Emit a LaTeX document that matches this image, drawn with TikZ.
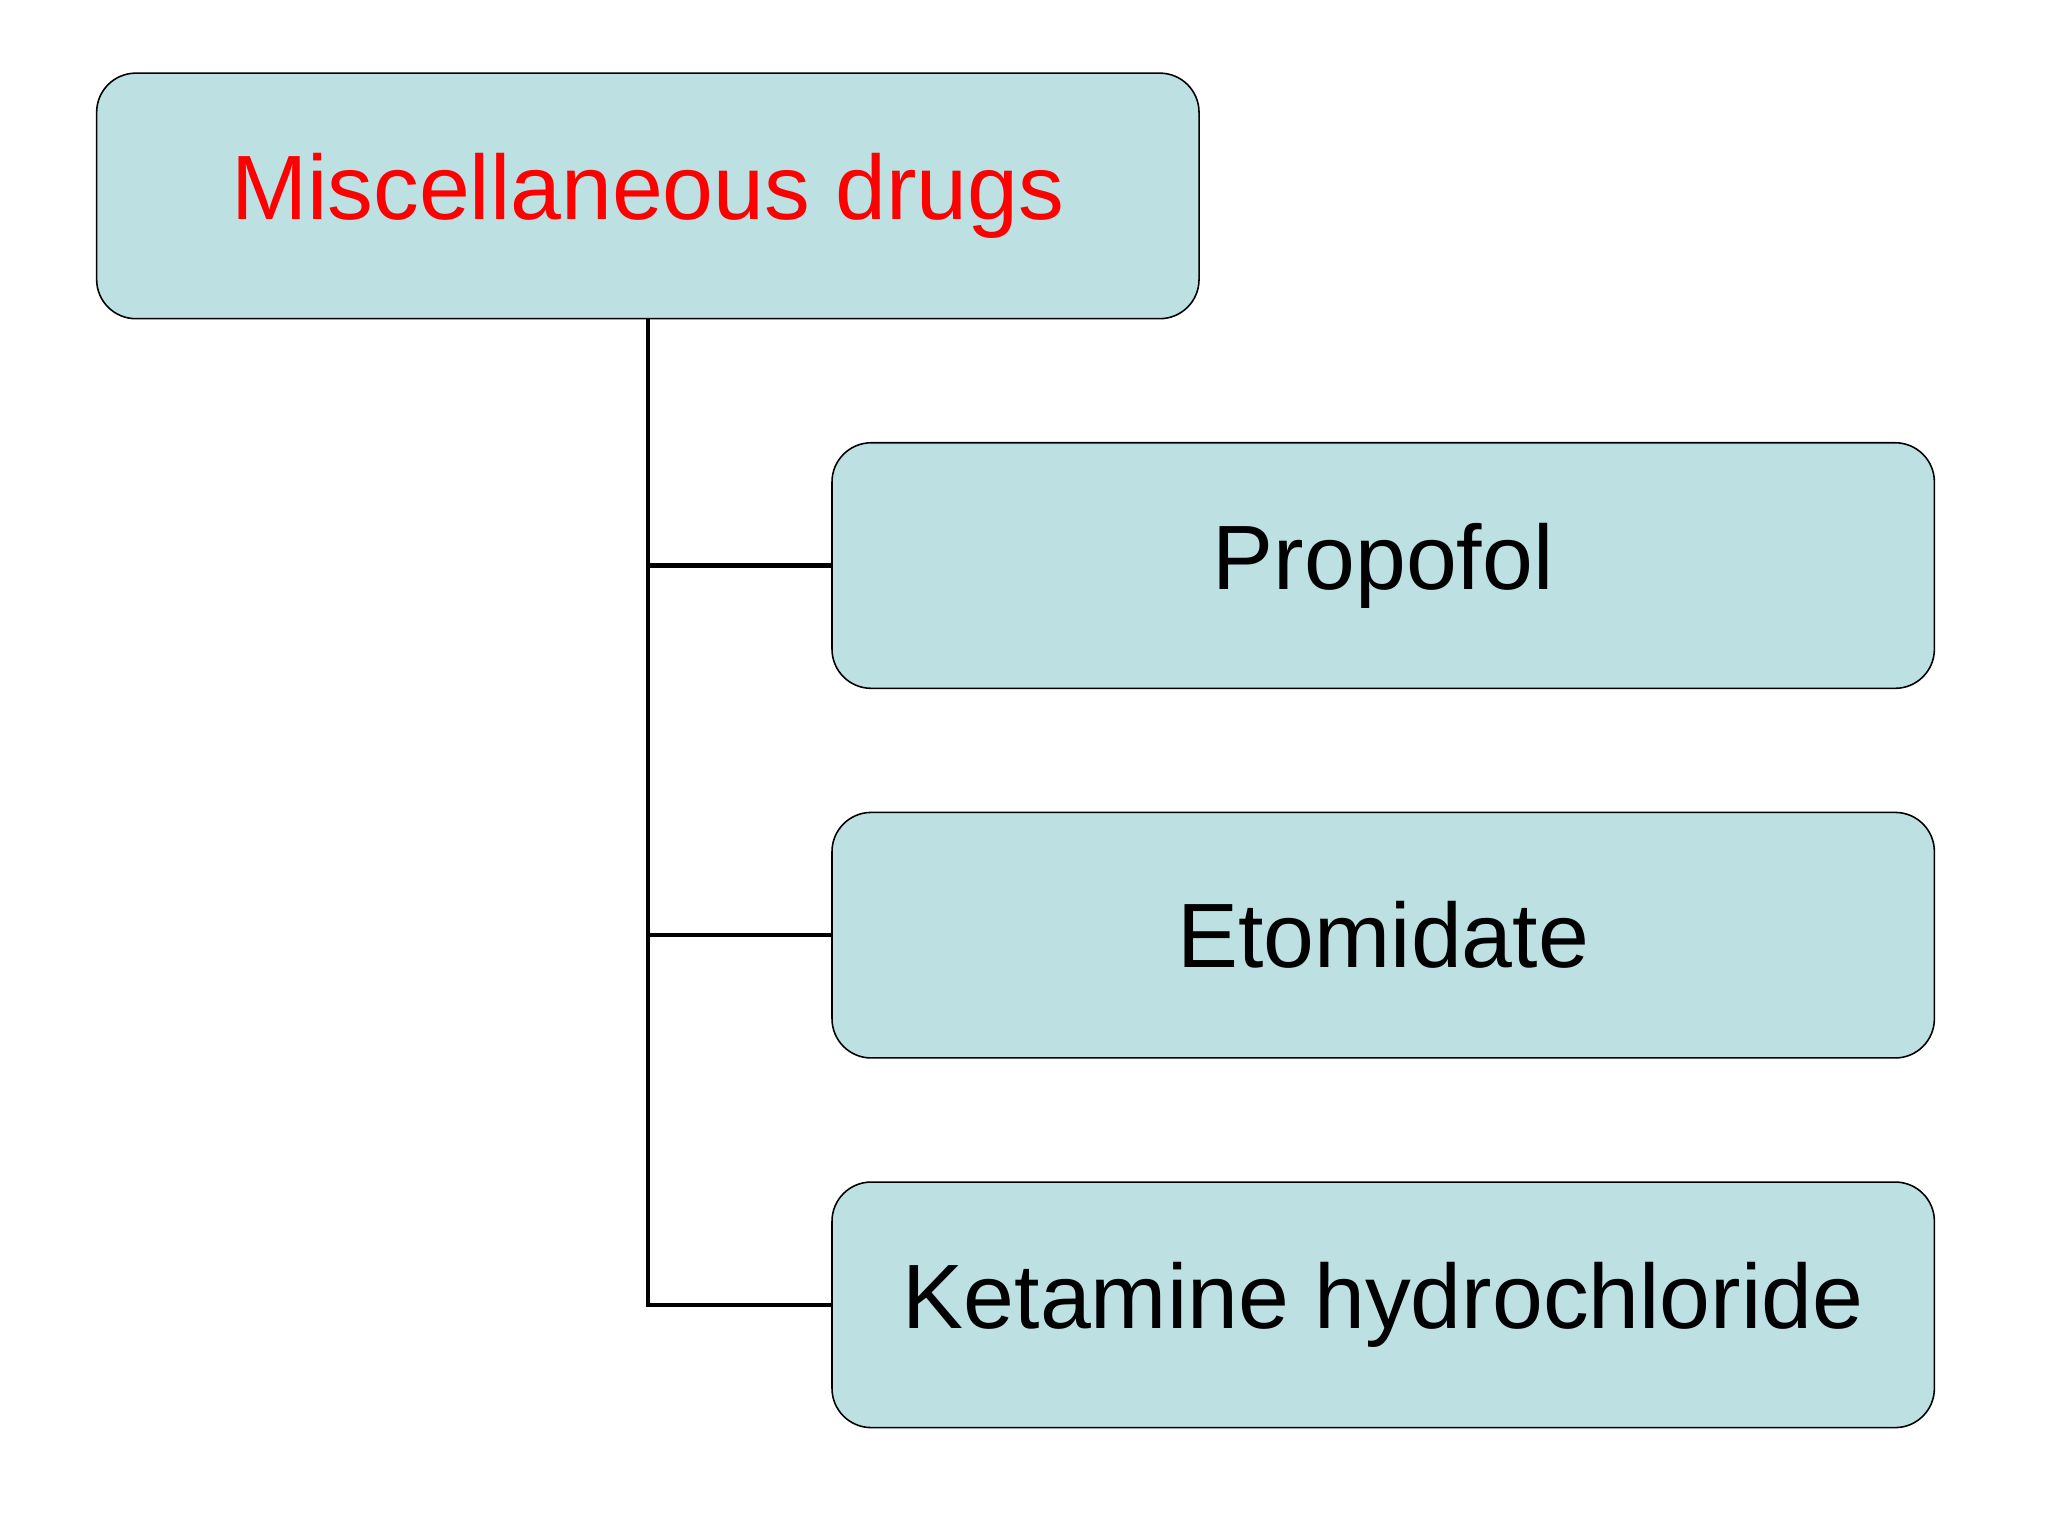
\documentclass[tikz,border=0pt]{standalone}
\usepackage{fontspec}
\setmainfont{Liberation Sans}
\definecolor{boxfill}{HTML}{BDE0E3}
\begin{document}
\begin{tikzpicture}[x=0.5pt,y=-0.5pt,
  box/.style={draw=black,line width=0.6pt,fill=boxfill,rounded corners=15pt,minimum width=422pt,minimum height=94pt,inner sep=0pt,font=\fontsize{35}{40}\selectfont},
  conn/.style={line width=1.6pt,black}]
\useasboundingbox (0,0) rectangle (1568,1176);
\node[box,text=red] (top) at (496,150) {Miscellaneous drugs};
\node[box] (p) at (1059,433) {Propofol};
\node[box] (e) at (1059,716) {Etomidate};
\node[box] (k) at (1059,999) {Ketamine hydrochloride};
\draw[conn] (top.south) |- (p.west);
\draw[conn] (top.south) |- (e.west);
\draw[conn] (top.south) |- (k.west);
\end{tikzpicture}
\end{document}
